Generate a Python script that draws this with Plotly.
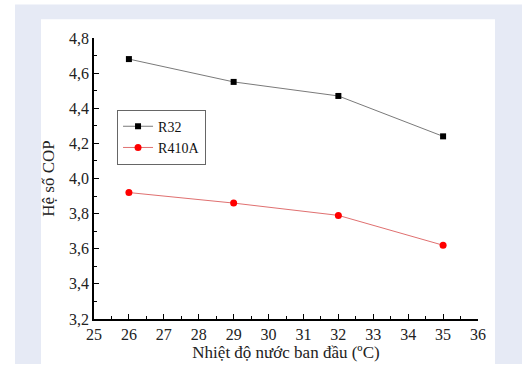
import plotly.graph_objects as go

temps = [26, 29, 32, 35]
cop_r32 = [4.68, 4.55, 4.47, 4.24]
cop_r410a = [3.92, 3.86, 3.79, 3.62]
series_names = ["R32", "R410A"]

fig = go.Figure()
fig.add_trace(go.Scatter(
    x=temps, y=cop_r32, name=series_names[0], mode="lines+markers",
    line=dict(color="#7a7a7a", width=1),
    marker=dict(symbol="square", color="black", size=6),
))
fig.add_trace(go.Scatter(
    x=temps, y=cop_r410a, name=series_names[1], mode="lines+markers",
    line=dict(color="#e07070", width=1),
    marker=dict(symbol="circle", color="red", size=7),
))

font_family = "Liberation Serif, Times New Roman, serif"

fig.update_layout(
    width=525, height=368,
    margin=dict(l=94, r=47, t=38, b=44),
    paper_bgcolor="white",
    plot_bgcolor="white",
    separators=",.",
    font=dict(family=font_family, size=16, color="#222"),
    showlegend=True,
    legend=dict(
        x=0.06, y=0.745, xanchor="left", yanchor="top",
        bgcolor="white", bordercolor="#666", borderwidth=1,
        font=dict(family=font_family, size=14, color="#111"),
        tracegroupgap=0, itemwidth=30,
    ),
    shapes=[
        dict(type="rect", xref="paper", yref="paper", layer="below",
             x0=-0.2057, x1=1.1146, y0=-0.16, y1=1.1189,
             fillcolor="#e6eaf5", line=dict(width=0)),
        dict(type="rect", xref="paper", yref="paper", layer="below",
             x0=-0.138, x1=1.0443, y0=-0.16, y1=1.0664,
             fillcolor="white", line=dict(width=0)),
    ],
)

fig.update_xaxes(
    range=[25, 36], dtick=1, tick0=25,
    showgrid=False, zeroline=False,
    showline=True, linecolor="black", linewidth=1.5,
    ticks="inside", ticklen=5, tickcolor="black", tickwidth=1,
    minor=dict(ticks="inside", ticklen=3, dtick=0.5, tickcolor="black", showgrid=False),
    tickfont=dict(family=font_family, size=16, color="#222"),
    title=dict(text="Nhiệt độ nước ban đầu (ºC)", standoff=1,
               font=dict(family=font_family, size=17, color="#222")),
)
fig.update_yaxes(
    range=[3.2, 4.8], dtick=0.2, tick0=3.2, tickformat=".1f",
    showgrid=False, zeroline=False,
    showline=True, linecolor="black", linewidth=1.5,
    ticks="inside", ticklen=5, tickcolor="black", tickwidth=1,
    minor=dict(ticks="inside", ticklen=3, dtick=0.1, tickcolor="black", showgrid=False),
    tickfont=dict(family=font_family, size=16, color="#222"),
    title=dict(text="Hệ số COP", standoff=10,
               font=dict(family=font_family, size=17, color="#222")),
)

fig.write_html("out.html")
